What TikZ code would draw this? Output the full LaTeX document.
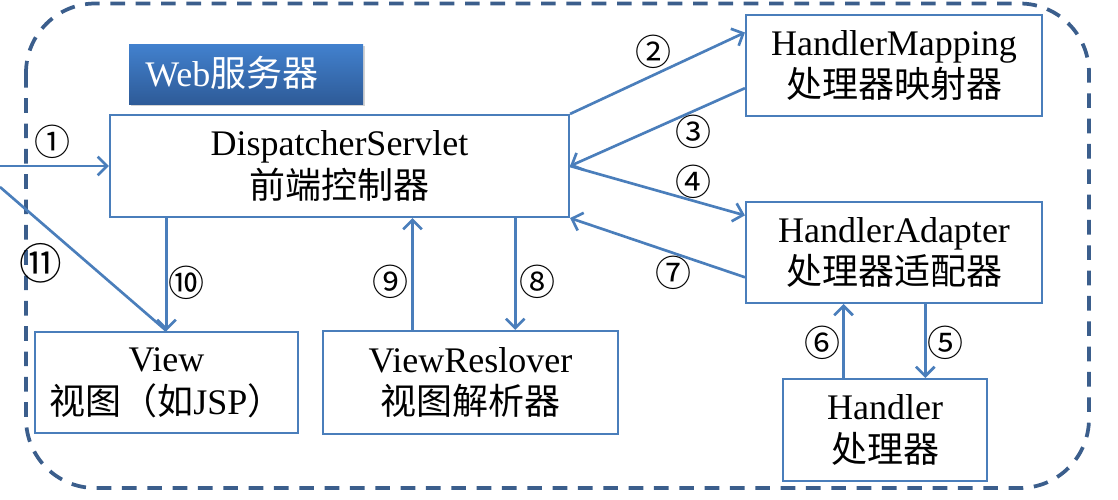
\documentclass[tikz,border=0pt]{standalone}
\usepackage{fontspec}
\setmainfont{Liberation Serif}
\newfontfamily\cjk{Noto Sans CJK SC}
\usetikzlibrary{arrows.meta,calc,shadows}
\definecolor{lineblue}{HTML}{4A7EBB}
\definecolor{dashblue}{HTML}{3B5E8C}
\definecolor{webtop}{HTML}{4281CE}
\definecolor{webbot}{HTML}{2E5B98}
\begin{document}
\begin{tikzpicture}[x=0.75pt,y=-0.75pt,
  box/.style={draw=lineblue,line width=1.6pt,fill=white,align=center,inner sep=0pt,
    font=\fontsize{27}{32}\selectfont},
  conn/.style={draw=lineblue,line width=2pt,-{Straight Barb[length=7pt,width=14pt]}},
  plainconn/.style={draw=lineblue,line width=2pt},
  num/.style={font=\cjk\fontsize{27}{27}\selectfont,inner sep=0pt},
  outerbox/.style={draw=dashblue,line width=2.8pt,dash pattern=on 11pt off 8pt,rounded corners=52pt}]
\useasboundingbox (0,0) rectangle (1118,500);
% outer dashed web server area
\draw[outerbox] (26,3.5) rectangle (1089,488);
% web server title
\node[minimum width=175.5pt,minimum height=45pt,inner sep=0pt,
  top color=webtop,bottom color=webbot,draw=none,
  drop shadow={shadow xshift=1.5pt,shadow yshift=-1.5pt,opacity=0.35}] (web) at (246,74) {};
\node[anchor=west,text=white,inner sep=0pt,font=\fontsize{27}{27}\selectfont] (webt) at (145,73) {Web{\cjk 服务器}};
% boxes
\node[box,minimum width=344.25pt,minimum height=76.5pt] (dis) at (339.5,166) {DispatcherServlet\\{\cjk 前端控制器}};
\node[box,minimum width=222pt,minimum height=75.75pt] (hm) at (894,65.5) {HandlerMapping\\{\cjk 处理器映射器}};
\node[box,minimum width=222pt,minimum height=75.75pt] (ha) at (894,252.5) {HandlerAdapter\\{\cjk 处理器适配器}};
\node[box,minimum width=153pt,minimum height=76.5pt] (hd) at (885,430) {Handler\\{\cjk 处理器}};
\node[box,minimum width=197.25pt,minimum height=75.75pt] (view) at (166.5,382.5) {View\\{\cjk 视图（如}JSP{\cjk ）}};
\node[box,minimum width=221.25pt,minimum height=77.25pt] (vr) at (470.5,382.5) {ViewReslover\\{\cjk 视图解析器}};
% free ends
\coordinate (in) at (0,166);
\coordinate (out) at (0,187);
% connectors
\draw[conn] (in) -- (dis.west);
\draw[conn] (dis.north east) -- ($(hm.north west)!0.18!(hm.south west)$);
\draw[conn] ($(hm.north west)!0.72!(hm.south west)$) -- (dis.east);
\draw[conn] (dis.east) -- ($(ha.north west)!0.14!(ha.south west)$);
\draw[conn] ($(ha.south west)!0.605!(ha.south east)$) coordinate (p5) -- (p5 |- hd.north);
\draw[conn] ($(hd.north west)!0.299!(hd.north east)$) coordinate (p6) -- (p6 |- ha.south);
\draw[conn] ($(ha.north west)!0.74!(ha.south west)$) -- (dis.south east);
\draw[conn] ($(dis.south west)!0.881!(dis.south east)$) coordinate (p8) -- (p8 |- vr.north);
\draw[conn] ($(vr.north west)!0.305!(vr.north east)$) coordinate (p9) -- (p9 |- dis.south);
\draw[conn] (dis.south -| view.north) -- (view.north);
\draw[plainconn] (view.north) -- (out);
% step numbers
\node[num] (n1) at (53,142) {①};
\node[num] (n2) at (653,52) {②};
\node[num] (n3) at (693,132) {③};
\node[num] (n4) at (693,182) {④};
\node[num] (n5) at (945,343) {⑤};
\node[num] (n6) at (822,343) {⑥};
\node[num] (n7) at (673,273) {⑦};
\node[num] (n8) at (537,282) {⑧};
\node[num] (n9) at (390,282) {⑨};
\node[num] (n10) at (186,283) {⑩};
\node[num,font=\cjk\fontsize{32}{32}\selectfont] (n11) at (41,263) {⑪};
\end{tikzpicture}
\end{document}
